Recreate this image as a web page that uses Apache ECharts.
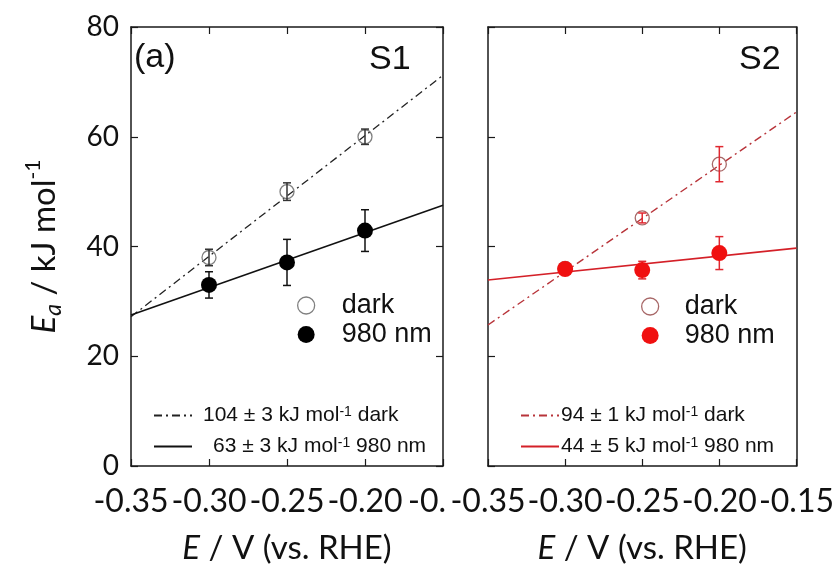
<!DOCTYPE html>
<html>
<head>
<meta charset="utf-8">
<script src="https://cdn.jsdelivr.net/npm/echarts@6/dist/echarts.min.js"></script>
<style>html,body{margin:0;padding:0;background:#fff}#c{width:837px;height:570px}</style>
</head>
<body>
<div id="c"></div>
<script>
// ---- data ----
const potentials = [-0.30, -0.25, -0.20];
const xTicks = [-0.35, -0.30, -0.25, -0.20, -0.15];
const yTicks = [0, 20, 40, 60, 80];
const s1Dark = [38.0, 50.0, 60.0];
const s1DarkErr = [1.5, 1.6, 1.4];
const s1Nir = [33.0, 37.1, 42.9];
const s1NirErr = [2.4, 4.2, 3.8];
const s2Dark = [36.0, 45.2, 55.0];
const s2DarkErr = [0.8, 0.9, 3.2];
const s2Nir = [35.9, 35.7, 38.8];
const s2NirErr = [1.0, 1.6, 3.0];
const fitX = [-0.35, -0.15];
const fitS1Dark = [27.2, 71.2];
const fitS1Nir = [27.5, 47.5];
const fitS2Dark = [25.7, 64.5];
const fitS2Nir = [33.9, 39.7];

const pts = (v) => potentials.map((x, i) => [x, v[i]]);
const errs = (v, e) => potentials.map((x, i) => [x, v[i] - e[i], v[i] + e[i]]);
const fit = (v) => fitX.map((x, i) => [x, v[i]]);

const AX = '#1a1a1a';
const LAB = 'Lato';
const ARIAL = 'Liberation Sans';

function errRender(color) {
  return function (params, api) {
    const x = api.value(0);
    const a = api.coord([x, api.value(1)]);
    const b = api.coord([x, api.value(2)]);
    const st = { stroke: color, lineWidth: 1.5 };
    const cap = 4;
    return { type: 'group', children: [
      { type: 'line', shape: { x1: a[0], y1: a[1], x2: b[0], y2: b[1] }, style: st },
      { type: 'line', shape: { x1: a[0] - cap, y1: a[1], x2: a[0] + cap, y2: a[1] }, style: st },
      { type: 'line', shape: { x1: b[0] - cap, y1: b[1], x2: b[0] + cap, y2: b[1] }, style: st }
    ]};
  };
}

// the left panel's last tick label is cut off by the neighbouring panel in the original
function xLabel(grid) {
  return (v) => {
    const s = v.toFixed(2);
    if (grid === 0 && Math.abs(v - xTicks[xTicks.length - 1]) < 1e-9) return '{c|' + s.slice(0, 3) + '}';
    return '{r|' + s + '}';
  };
}

function xAxisPair(grid) {
  const base = {
    gridIndex: grid, type: 'value', min: xTicks[0], max: xTicks[xTicks.length - 1], interval: 0.05,
    splitLine: { show: false },
    axisLine: { show: true, onZero: false, lineStyle: { color: AX, width: 1.5 } },
    axisTick: { show: true, inside: true, length: 7, lineStyle: { color: AX, width: 1.2 } }
  };
  const labRich = {
    c: { fontSize: 32, fontFamily: LAB, color: '#111', padding: [0, 32, 0, 0] },
    r: { fontSize: 32, fontFamily: LAB, color: '#111' }
  };
  return [
    Object.assign({}, base, {
      position: 'bottom',
      axisLabel: {
        formatter: xLabel(grid),
        rich: labRich, fontSize: 32, fontFamily: LAB, color: '#111', margin: 20,
        hideOverlap: false, showMinLabel: true, showMaxLabel: true },
      name: '{i|E}{n| / V (vs. RHE)}', nameLocation: 'middle', nameGap: 66,
      nameTextStyle: { fontFamily: LAB, fontSize: 33, color: '#111',
        rich: { i: { fontStyle: 'italic', fontFamily: LAB, fontSize: 33, color: '#111' },
                n: { fontFamily: LAB, fontSize: 33, color: '#111' } } }
    }),
    Object.assign({}, base, { position: 'top', axisLabel: { show: false } })
  ];
}

function yAxisPair(grid) {
  const base = {
    gridIndex: grid, type: 'value', min: yTicks[0], max: yTicks[yTicks.length - 1], interval: 20,
    splitLine: { show: false },
    axisLine: { show: true, onZero: false, lineStyle: { color: AX, width: 1.5 } },
    axisTick: { show: true, inside: true, length: 7, lineStyle: { color: AX, width: 1.2 } }
  };
  const left = Object.assign({}, base, { position: 'left' });
  if (grid === 0) {
    left.axisLabel = { fontSize: 28, fontFamily: LAB, color: '#111', margin: 12 };
    left.name = '{i|E}{sub|a}{n| / kJ mol}{sup|-1}';
    left.nameLocation = 'middle';
    left.nameRotate = 90;
    left.nameGap = 66;
    left.nameTextStyle = { fontFamily: LAB, fontSize: 33, color: '#111',
      rich: {
        i: { fontStyle: 'italic', fontFamily: LAB, fontSize: 33, color: '#111', lineHeight: 42 },
        sub: { fontStyle: 'italic', fontFamily: LAB, fontSize: 23, color: '#111', verticalAlign: 'bottom', lineHeight: 23 },
        n: { fontFamily: LAB, fontSize: 33, color: '#111', lineHeight: 42 },
        sup: { fontFamily: LAB, fontSize: 21, color: '#111', verticalAlign: 'top', lineHeight: 16 }
      } };
  } else {
    left.axisLabel = { show: false };
  }
  const right = Object.assign({}, base, { position: 'right', axisLabel: { show: false } });
  if (grid === 1) right.axisTick = { show: false };
  return [left, right];
}

const supRich = {
  n: { fontFamily: ARIAL, fontSize: 21, color: '#111' },
  ind: { fontFamily: ARIAL, fontSize: 21, color: '#111', padding: [0, 0, 0, 10] },
  s: { fontFamily: ARIAL, fontSize: 14, color: '#111', verticalAlign: 'top', lineHeight: 12 }
};

const fitLabels = {
  'S1 dark fit': '{n|104 ± 3 kJ mol}{s|-1}{n| dark}',
  'S1 980 nm fit': '{ind|63 ± 3 kJ mol}{s|-1}{n| 980 nm}',
  'S2 dark fit': '{n|94 ± 1 kJ mol}{s|-1}{n| dark}',
  'S2 980 nm fit': '{n|44 ± 5 kJ mol}{s|-1}{n| 980 nm}'
};
const noSym = { color: 'rgba(0,0,0,0)', borderWidth: 0, opacity: 0 };

const chart = echarts.init(document.getElementById('c'), null, { renderer: 'canvas' });

const option = {
  animation: false,
  backgroundColor: '#fff',
  grid: [
    { left: 131, top: 27, width: 312, height: 444 },
    { left: 488, top: 27, width: 309, height: 444 }
  ],
  xAxis: [].concat(xAxisPair(0), xAxisPair(1)),
  yAxis: [].concat(yAxisPair(0), yAxisPair(1)),
  legend: [
    { left: 292, top: 287, orient: 'vertical', itemGap: 2, itemWidth: 17, itemHeight: 17, selectedMode: false,
      formatter: (n) => n.slice(3),
      textStyle: { fontFamily: ARIAL, fontSize: 27, color: '#111', lineHeight: 26, padding: [0, 0, 0, 22] },
      data: [
        { name: 'S1 dark', icon: 'circle', itemStyle: { color: 'rgba(255,255,255,0)', borderColor: '#808080', borderWidth: 1.3, opacity: 1 } },
        { name: 'S1 980 nm', icon: 'circle', itemStyle: { color: '#000', opacity: 1 } }
      ] },
    { left: 636, top: 288, orient: 'vertical', itemGap: 2, itemWidth: 17, itemHeight: 17, selectedMode: false,
      formatter: (n) => n.slice(3),
      textStyle: { fontFamily: ARIAL, fontSize: 27, color: '#111', lineHeight: 26, padding: [0, 0, 0, 21] },
      data: [
        { name: 'S2 dark', icon: 'circle', itemStyle: { color: 'rgba(255,255,255,0)', borderColor: '#a86868', borderWidth: 1.3, opacity: 1 } },
        { name: 'S2 980 nm', icon: 'circle', itemStyle: { color: '#f01010', opacity: 1 } }
      ] },
    { left: 148, top: 400, orient: 'vertical', itemGap: 10, itemWidth: 38, itemHeight: 14, selectedMode: false,
      formatter: (n) => fitLabels[n],
      textStyle: { fontFamily: ARIAL, fontSize: 21, color: '#111', rich: supRich, padding: [0, 0, 0, 6] },
      data: [{ name: 'S1 dark fit', itemStyle: noSym }, { name: 'S1 980 nm fit', itemStyle: noSym }] },
    { left: 515, top: 400, orient: 'vertical', itemGap: 10, itemWidth: 38, itemHeight: 14, selectedMode: false,
      formatter: (n) => fitLabels[n],
      textStyle: { fontFamily: ARIAL, fontSize: 21, color: '#111', rich: supRich, padding: [0, 0, 0, -3] },
      data: [{ name: 'S2 dark fit', itemStyle: noSym }, { name: 'S2 980 nm fit', itemStyle: noSym }] }
  ],
  graphic: [
    { type: 'text', left: 134, top: 41, style: { text: '(a)', font: '34px "Liberation Sans"', fill: '#111' } },
    { type: 'text', left: 369, top: 43, style: { text: 'S1', font: '34px "Liberation Sans"', fill: '#111' } },
    { type: 'text', left: 739, top: 43, style: { text: 'S2', font: '34px "Liberation Sans"', fill: '#111' } }
  ],
  series: [
    // S1 fits
    { name: 'S1 dark fit', type: 'line', xAxisIndex: 0, yAxisIndex: 0, data: fit(fitS1Dark), symbol: 'none', silent: true, z: 1,
      lineStyle: { color: '#222', width: 1.3, type: [8, 4, 2, 4] }, itemStyle: { color: '#222' } },
    { name: 'S1 980 nm fit', type: 'line', xAxisIndex: 0, yAxisIndex: 0, data: fit(fitS1Nir), symbol: 'none', silent: true, z: 1,
      lineStyle: { color: '#111', width: 1.6, type: 'solid' }, itemStyle: { color: '#111' } },
    // S1 points
    { name: 'S1 dark', type: 'scatter', xAxisIndex: 0, yAxisIndex: 0, data: pts(s1Dark), symbolSize: 14, z: 3,
      itemStyle: { color: 'rgba(255,255,255,0)', borderColor: '#808080', borderWidth: 1.3, opacity: 1 } },
    { name: 'S1 dark err', type: 'custom', xAxisIndex: 0, yAxisIndex: 0, data: errs(s1Dark, s1DarkErr), z: 4,
      renderItem: errRender('#333'), encode: { x: 0, y: [1, 2] } },
    { name: 'S1 980 nm err', type: 'custom', xAxisIndex: 0, yAxisIndex: 0, data: errs(s1Nir, s1NirErr), z: 2,
      renderItem: errRender('#111'), encode: { x: 0, y: [1, 2] } },
    { name: 'S1 980 nm', type: 'scatter', xAxisIndex: 0, yAxisIndex: 0, data: pts(s1Nir), symbolSize: 16, z: 5,
      itemStyle: { color: '#000', opacity: 1 } },
    // S2 fits
    { name: 'S2 dark fit', type: 'line', xAxisIndex: 2, yAxisIndex: 2, data: fit(fitS2Dark), symbol: 'none', silent: true, z: 1,
      lineStyle: { color: '#b8343a', width: 1.4, type: [8, 4, 2, 4] }, itemStyle: { color: '#b8343a' } },
    { name: 'S2 980 nm fit', type: 'line', xAxisIndex: 2, yAxisIndex: 2, data: fit(fitS2Nir), symbol: 'none', silent: true, z: 1,
      lineStyle: { color: '#d42028', width: 1.6, type: 'solid' }, itemStyle: { color: '#d42028' } },
    // S2 points
    { name: 'S2 dark', type: 'scatter', xAxisIndex: 2, yAxisIndex: 2, data: pts(s2Dark), symbolSize: 14, z: 3,
      itemStyle: { color: 'rgba(255,255,255,0)', borderColor: '#a86868', borderWidth: 1.3, opacity: 1 } },
    { name: 'S2 dark err', type: 'custom', xAxisIndex: 2, yAxisIndex: 2, data: errs(s2Dark, s2DarkErr), z: 4,
      renderItem: errRender('#e02830'), encode: { x: 0, y: [1, 2] } },
    { name: 'S2 980 nm err', type: 'custom', xAxisIndex: 2, yAxisIndex: 2, data: errs(s2Nir, s2NirErr), z: 2,
      renderItem: errRender('#e02830'), encode: { x: 0, y: [1, 2] } },
    { name: 'S2 980 nm', type: 'scatter', xAxisIndex: 2, yAxisIndex: 2, data: pts(s2Nir), symbolSize: 16, z: 5,
      itemStyle: { color: '#f01010', opacity: 1 } }
  ]
};
chart.setOption(option);
</script>
</body>
</html>
